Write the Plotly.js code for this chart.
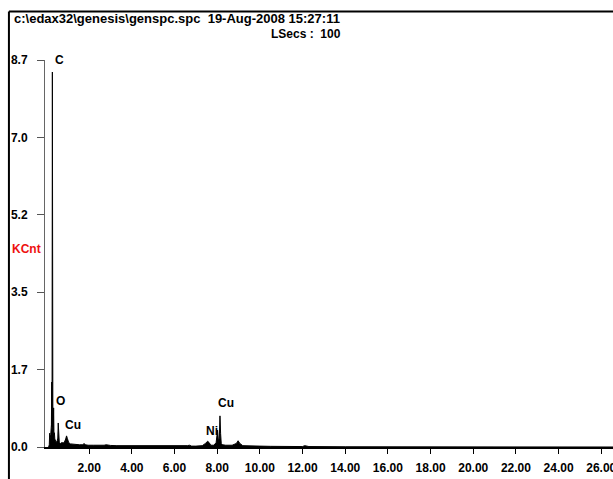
<!DOCTYPE html>
<html>
<head>
<meta charset="utf-8">
<script src="https://cdn.plot.ly/plotly-3.0.1.min.js"></script>
<style>
html,body{margin:0;padding:0;background:#fff;}
#chart{width:613px;height:479px;}
</style>
</head>
<body>
<div id="chart"></div>
<script>
// Spectrum: energy (keV) and intensity (KCnt)
var energy = [0.10,0.13,0.15,0.17,0.20,0.23,0.245,0.26,0.275,0.285,0.30,0.32,0.335,0.35,0.37,0.39,0.42,0.46,0.50,0.53,0.55,0.57,0.60,0.66,0.72,0.78,0.84,0.90,0.94,0.98,1.04,1.12,1.25,1.40,1.55,1.70,1.76,1.82,1.95,2.20,2.50,2.70,2.80,3.00,3.30,3.60,3.90,4.20,4.50,4.80,5.10,5.40,5.70,6.00,6.30,6.60,6.70,6.80,7.00,7.30,7.45,7.55,7.62,7.70,7.85,7.95,8.02,8.06,8.10,8.13,8.16,8.19,8.25,8.40,8.70,8.90,8.98,9.06,9.20,9.50,10.00,10.50,11.00,12.00,12.10,12.30,14.00,26.60];
var kcnt = [0,0.05,0.31,0.18,0.28,0.5,1.46,0.45,8.43,0.6,0.35,0.5,0.88,0.3,0.32,0.18,0.12,0.1,0.14,0.2,0.54,0.16,0.1,0.08,0.1,0.09,0.11,0.18,0.25,0.19,0.1,0.07,0.06,0.05,0.05,0.05,0.08,0.05,0.04,0.04,0.035,0.04,0.05,0.035,0.03,0.03,0.03,0.03,0.03,0.03,0.025,0.03,0.025,0.025,0.02,0.03,0.04,0.02,0.02,0.03,0.08,0.13,0.10,0.04,0.04,0.10,0.38,0.12,0.20,0.70,0.30,0.08,0.05,0.04,0.04,0.08,0.14,0.08,0.03,0.02,0.02,0.015,0.01,0.01,0.03,0.01,0.005,0];

// Peak labels
var peakNames = ['C','O','Cu','Ni','Cu'];
var peakE = [0.29,0.35,0.76,7.36,7.96];
var peakY = [8.70,1.03,0.50,0.36,1.00];

// Axis ticks
var xTickVals = [2,4,6,8,10,12,14,16,18,20,22,24,26];
var xTickText = ['2.00','4.00','6.00','8.00','10.00','12.00','14.00','16.00','18.00','20.00','22.00','24.00','26.00'];
var yTickVals = [0,1.74,3.48,5.22,6.96,8.7];
var yTickText = ['0.0','1.7','3.5','5.2','7.0','8.7'];

var headerText = 'c:\\edax32\\genesis\\genspc.spc  19-Aug-2008 15:27:11';
var lsecsText = 'LSecs :  100';
var yUnitText = 'KCnt';

var FONT = 'Liberation Sans, Arial, sans-serif';

var trace = {
  x: energy, y: kcnt, type: 'scatter', mode: 'lines',
  line: {color: '#000', width: 1}, fill: 'tozeroy', fillcolor: '#000',
  hoverinfo: 'skip', showlegend: false
};

var annotations = [];
for (var i = 0; i < peakNames.length; i++) {
  annotations.push({
    x: peakE[i], y: peakY[i], xref: 'x', yref: 'y', text: '<b>' + peakNames[i] + '</b>',
    showarrow: false, xanchor: 'left', yanchor: 'middle',
    font: {family: FONT, size: 12, color: '#000'}
  });
}
annotations.push({x: -0.058, y: 1.1085, xref: 'paper', yref: 'paper', text: '<b>' + headerText + '</b>',
  showarrow: false, xanchor: 'left', yanchor: 'middle', font: {family: FONT, size: 13, color: '#000'}});
annotations.push({x: 0.5238, y: 1.067, xref: 'paper', yref: 'paper', text: '<b>' + lsecsText + '</b>',
  showarrow: false, xanchor: 'right', yanchor: 'middle', font: {family: FONT, size: 12, color: '#000'}});
annotations.push({x: -0.0617, y: 0.5116, xref: 'paper', yref: 'paper', text: '<b>' + yUnitText + '</b>',
  showarrow: false, xanchor: 'left', yanchor: 'middle', font: {family: FONT, size: 12, color: '#ee1111'}});

var layout = {
  width: 613, height: 479,
  margin: {l: 45, r: 0, t: 60, b: 32},
  paper_bgcolor: '#fff', plot_bgcolor: '#fff',
  showlegend: false,
  xaxis: {
    range: [-0.07, 26.55], showgrid: false, zeroline: false,
    showline: true, linecolor: '#000', linewidth: 2,
    ticks: 'outside', ticklen: 5, tickwidth: 1, tickcolor: '#000',
    tickvals: xTickVals, ticktext: xTickText,
    tickfont: {family: FONT, size: 12, color: '#000', weight: 'bold'},
    ticklabelstandoff: 4, ticklabeloverflow: 'allow'
  },
  yaxis: {
    range: [0, 8.7], showgrid: false, zeroline: false,
    showline: true, linecolor: '#666', linewidth: 1,
    ticks: 'outside', ticklen: 7, tickwidth: 1, tickcolor: '#555',
    tickvals: yTickVals, ticktext: yTickText,
    tickfont: {family: FONT, size: 12, color: '#000', weight: 'bold'},
    ticklabelstandoff: 7
  },
  annotations: annotations,
  shapes: [
    {type: 'line', xref: 'paper', yref: 'paper', x0: -0.0635, x1: 1.01, y0: 1.1253, y1: 1.1253, line: {color: '#000', width: 2}},
    {type: 'line', xref: 'paper', yref: 'paper', x0: -0.0635, x1: -0.0635, y0: 1.1253, y1: -0.09, line: {color: '#000', width: 2}}
  ]
};

Plotly.newPlot('chart', [trace], layout, {staticPlot: true, displayModeBar: false});
</script>
</body>
</html>
